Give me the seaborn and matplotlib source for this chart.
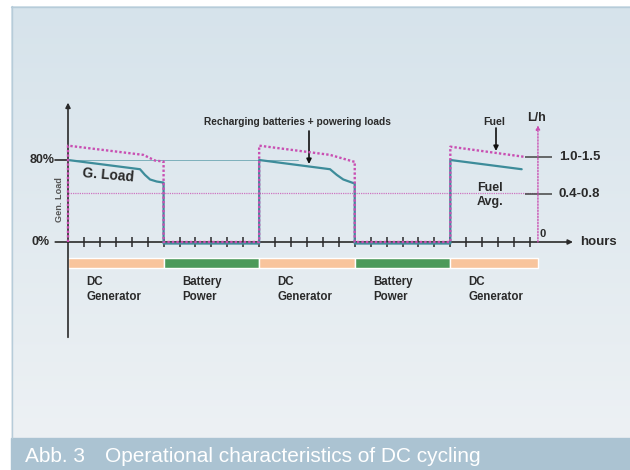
import numpy as np
import pandas as pd
import seaborn as sns
import matplotlib
matplotlib.use("Agg")
import matplotlib.pyplot as plt
from matplotlib.colors import LinearSegmentedColormap
from matplotlib.patches import Rectangle

# data: x in hours (one tick = 1), y in % of generator load
load_hours = [0, 4.52, 4.83, 5.15, 5.57, 5.98, 6.0, 6.0, 12.0, 12.0, 16.45, 16.87, 17.28, 17.91, 18.0, 18.0, 24.0, 24.0, 28.48]
load_pct = [80, 71, 65.5, 61, 59, 58, 58, -1.5, -1.5, 80, 71, 65.5, 61, 57.5, 57.5, -1.5, -1.5, 80, 71]

fuel_hours = [0, 0, 4.73, 5.46, 6.0, 6.0, 12.0, 12.0, 16.45, 17.91, 18.0, 18.0, 24.0, 24.0, 28.69]
fuel_pct = [0, 94, 85, 79.5, 78.5, 0, 0, 94, 85, 78.5, 78.5, 0, 0, 93, 83]

phase_names = ["DC\nGenerator", "Battery\nPower", "DC\nGenerator", "Battery\nPower", "DC\nGenerator"]
phase_start = [0, 6, 12, 18, 24]
phase_end = [6, 12, 18, 24, 29.5]
phase_colors = ["#f8c49c", "#4c9a5a", "#f8c49c", "#4c9a5a", "#f8c49c"]

tick_hours = list(range(1, 30))
fuel_avg = 47.8
fuel_levels = ["1.0-1.5", "0.4-0.8"]
fuel_level_pos = [82.9, 46.8]

TEAL = "#3d8c9a"
MAGENTA = "#c94fb2"
DARK = "#2a2a2a"

sns.set_theme(style="white")
plt.rcParams["font.family"] = ["Liberation Sans", "DejaVu Sans"]

fig = plt.figure(figsize=(6.3, 4.7), dpi=100)

# background in pixel coordinates
bg = fig.add_axes([0, 0, 1, 1])
bg.set_xlim(0, 630)
bg.set_ylim(470, 0)
bg.axis("off")
grad = LinearSegmentedColormap.from_list("g", ["#d6e3eb", "#edf1f4"])
bg.imshow(np.linspace(0, 1, 256).reshape(-1, 1), cmap=grad, extent=(11, 630, 438, 6),
          aspect="auto", origin="upper", zorder=0)
bg.plot([11.5, 11.5], [6, 438], color="#b7ccd9", lw=1)
bg.plot([11, 630], [6.5, 6.5], color="#b7ccd9", lw=1)
bg.add_patch(Rectangle((11, 438), 619, 32, color="#abc3d2", zorder=1))
bg.text(25, 457, "Abb. 3", color="white", fontsize=15, va="center")
bg.text(105, 457, "Operational characteristics of DC cycling", color="white", fontsize=15,
        va="center")

# diagram axes, mapped so that 1 h = 15.93 px and 1 % = 1.025 px
ax = fig.add_axes([0, 0, 1, 1])
ax.patch.set_alpha(0)
ax.set_xlim(-68 / 15.93, (630 - 68) / 15.93)
ax.set_ylim((242 - 470) / 1.025, 242 / 1.025)
ax.axis("off")

df_load = pd.DataFrame({"hours": load_hours, "load": load_pct})
df_fuel = pd.DataFrame({"hours": fuel_hours, "fuel": fuel_pct})

# reference lines
ax.plot([0, 14.44], [80, 80], color=TEAL, lw=0.6, alpha=0.7)
ax.plot([0, 29.5], [fuel_avg, fuel_avg], color=MAGENTA, lw=0.9, alpha=0.75,
        linestyle=(0, (1, 0.8)))

sns.lineplot(data=df_load, x="hours", y="load", sort=False, estimator=None, ax=ax,
             color=TEAL, lw=1.6, zorder=4)
sns.lineplot(data=df_fuel, x="hours", y="fuel", sort=False, estimator=None, ax=ax,
             color=MAGENTA, lw=1.7, linestyle=(0, (1, 0.9)), zorder=5)

# phase bars and labels
ax.barh(-20.5, width=np.array(phase_end) - np.array(phase_start), left=phase_start,
        height=9.8, color=phase_colors, align="center", zorder=2)
for s, name in zip(phase_start, phase_names):
    ax.text(s + 1.15, -33.5, name, fontsize=8.3, fontweight="bold", color=DARK,
            va="top", ha="left", linespacing=1.35)

# axes
ax.annotate("", xy=(0, 136), xytext=(0, -93),
            arrowprops=dict(arrowstyle="-|>", lw=1.2, color=DARK, mutation_scale=7,
                            shrinkA=0, shrinkB=0))
ax.annotate("", xy=(31.7, 0), xytext=(-0.8, 0),
            arrowprops=dict(arrowstyle="-|>", lw=1.2, color=DARK, mutation_scale=7,
                            shrinkA=0, shrinkB=0), zorder=3)
ax.vlines(tick_hours, -5, 5, color=DARK, lw=1.1, zorder=3)
ax.plot([-0.8, 0], [80, 80], color=DARK, lw=1.2)

# fuel axis on the right
ax.annotate("", xy=(29.5, 114), xytext=(29.5, 0),
            arrowprops=dict(arrowstyle="-|>", lw=1.0, color=MAGENTA, mutation_scale=6,
                            linestyle=(0, (1, 1.2)), shrinkA=0, shrinkB=0))
ax.hlines(fuel_level_pos, 28.69, 30.38, color="#444444", lw=1.1)
for lab, yv in zip(fuel_levels, fuel_level_pos):
    ax.text(30.8, yv, lab, fontsize=9.5, fontweight="bold", color=DARK, va="center", ha="left")

# texts in pixel coordinates
bg.text(42, 160, "80%", fontsize=9, fontweight="bold", color=DARK, ha="center", va="center")
bg.text(41, 242, "0%", fontsize=9, fontweight="bold", color=DARK, ha="center", va="center")
bg.text(60, 200, "Gen. Load", fontsize=6.6, fontweight="bold", color="#555555", rotation=90,
        ha="center", va="center")
bg.text(108, 175, "G. Load", fontsize=10, fontweight="bold", color=DARK, rotation=-5,
        ha="center", va="center")
bg.text(297, 122, "Recharging batteries + powering loads", fontsize=7.3, fontweight="bold",
        color=DARK, ha="center", va="center")
bg.annotate("", xy=(309, 164), xytext=(309, 131),
            arrowprops=dict(arrowstyle="-|>", lw=1.2, color="#111111", mutation_scale=7,
                            shrinkA=0, shrinkB=0))
bg.text(494, 122, "Fuel", fontsize=7.7, fontweight="bold", color=DARK, ha="center", va="center")
bg.annotate("", xy=(496, 151), xytext=(496, 128),
            arrowprops=dict(arrowstyle="-|>", lw=1.2, color="#111111", mutation_scale=7,
                            shrinkA=0, shrinkB=0))
bg.text(537, 118, "L/h", fontsize=9, fontweight="bold", color=DARK, ha="center", va="center")
bg.text(490, 195, "Fuel\nAvg.", fontsize=9, fontweight="bold", color=DARK, ha="center",
        va="center", linespacing=1.25)
bg.text(540, 234, "0", fontsize=8, fontweight="bold", color=DARK, ha="left", va="center")
bg.text(580, 242, "hours", fontsize=9.5, fontweight="bold", color=DARK, ha="left", va="center")

fig.savefig("out.png", dpi=100)
